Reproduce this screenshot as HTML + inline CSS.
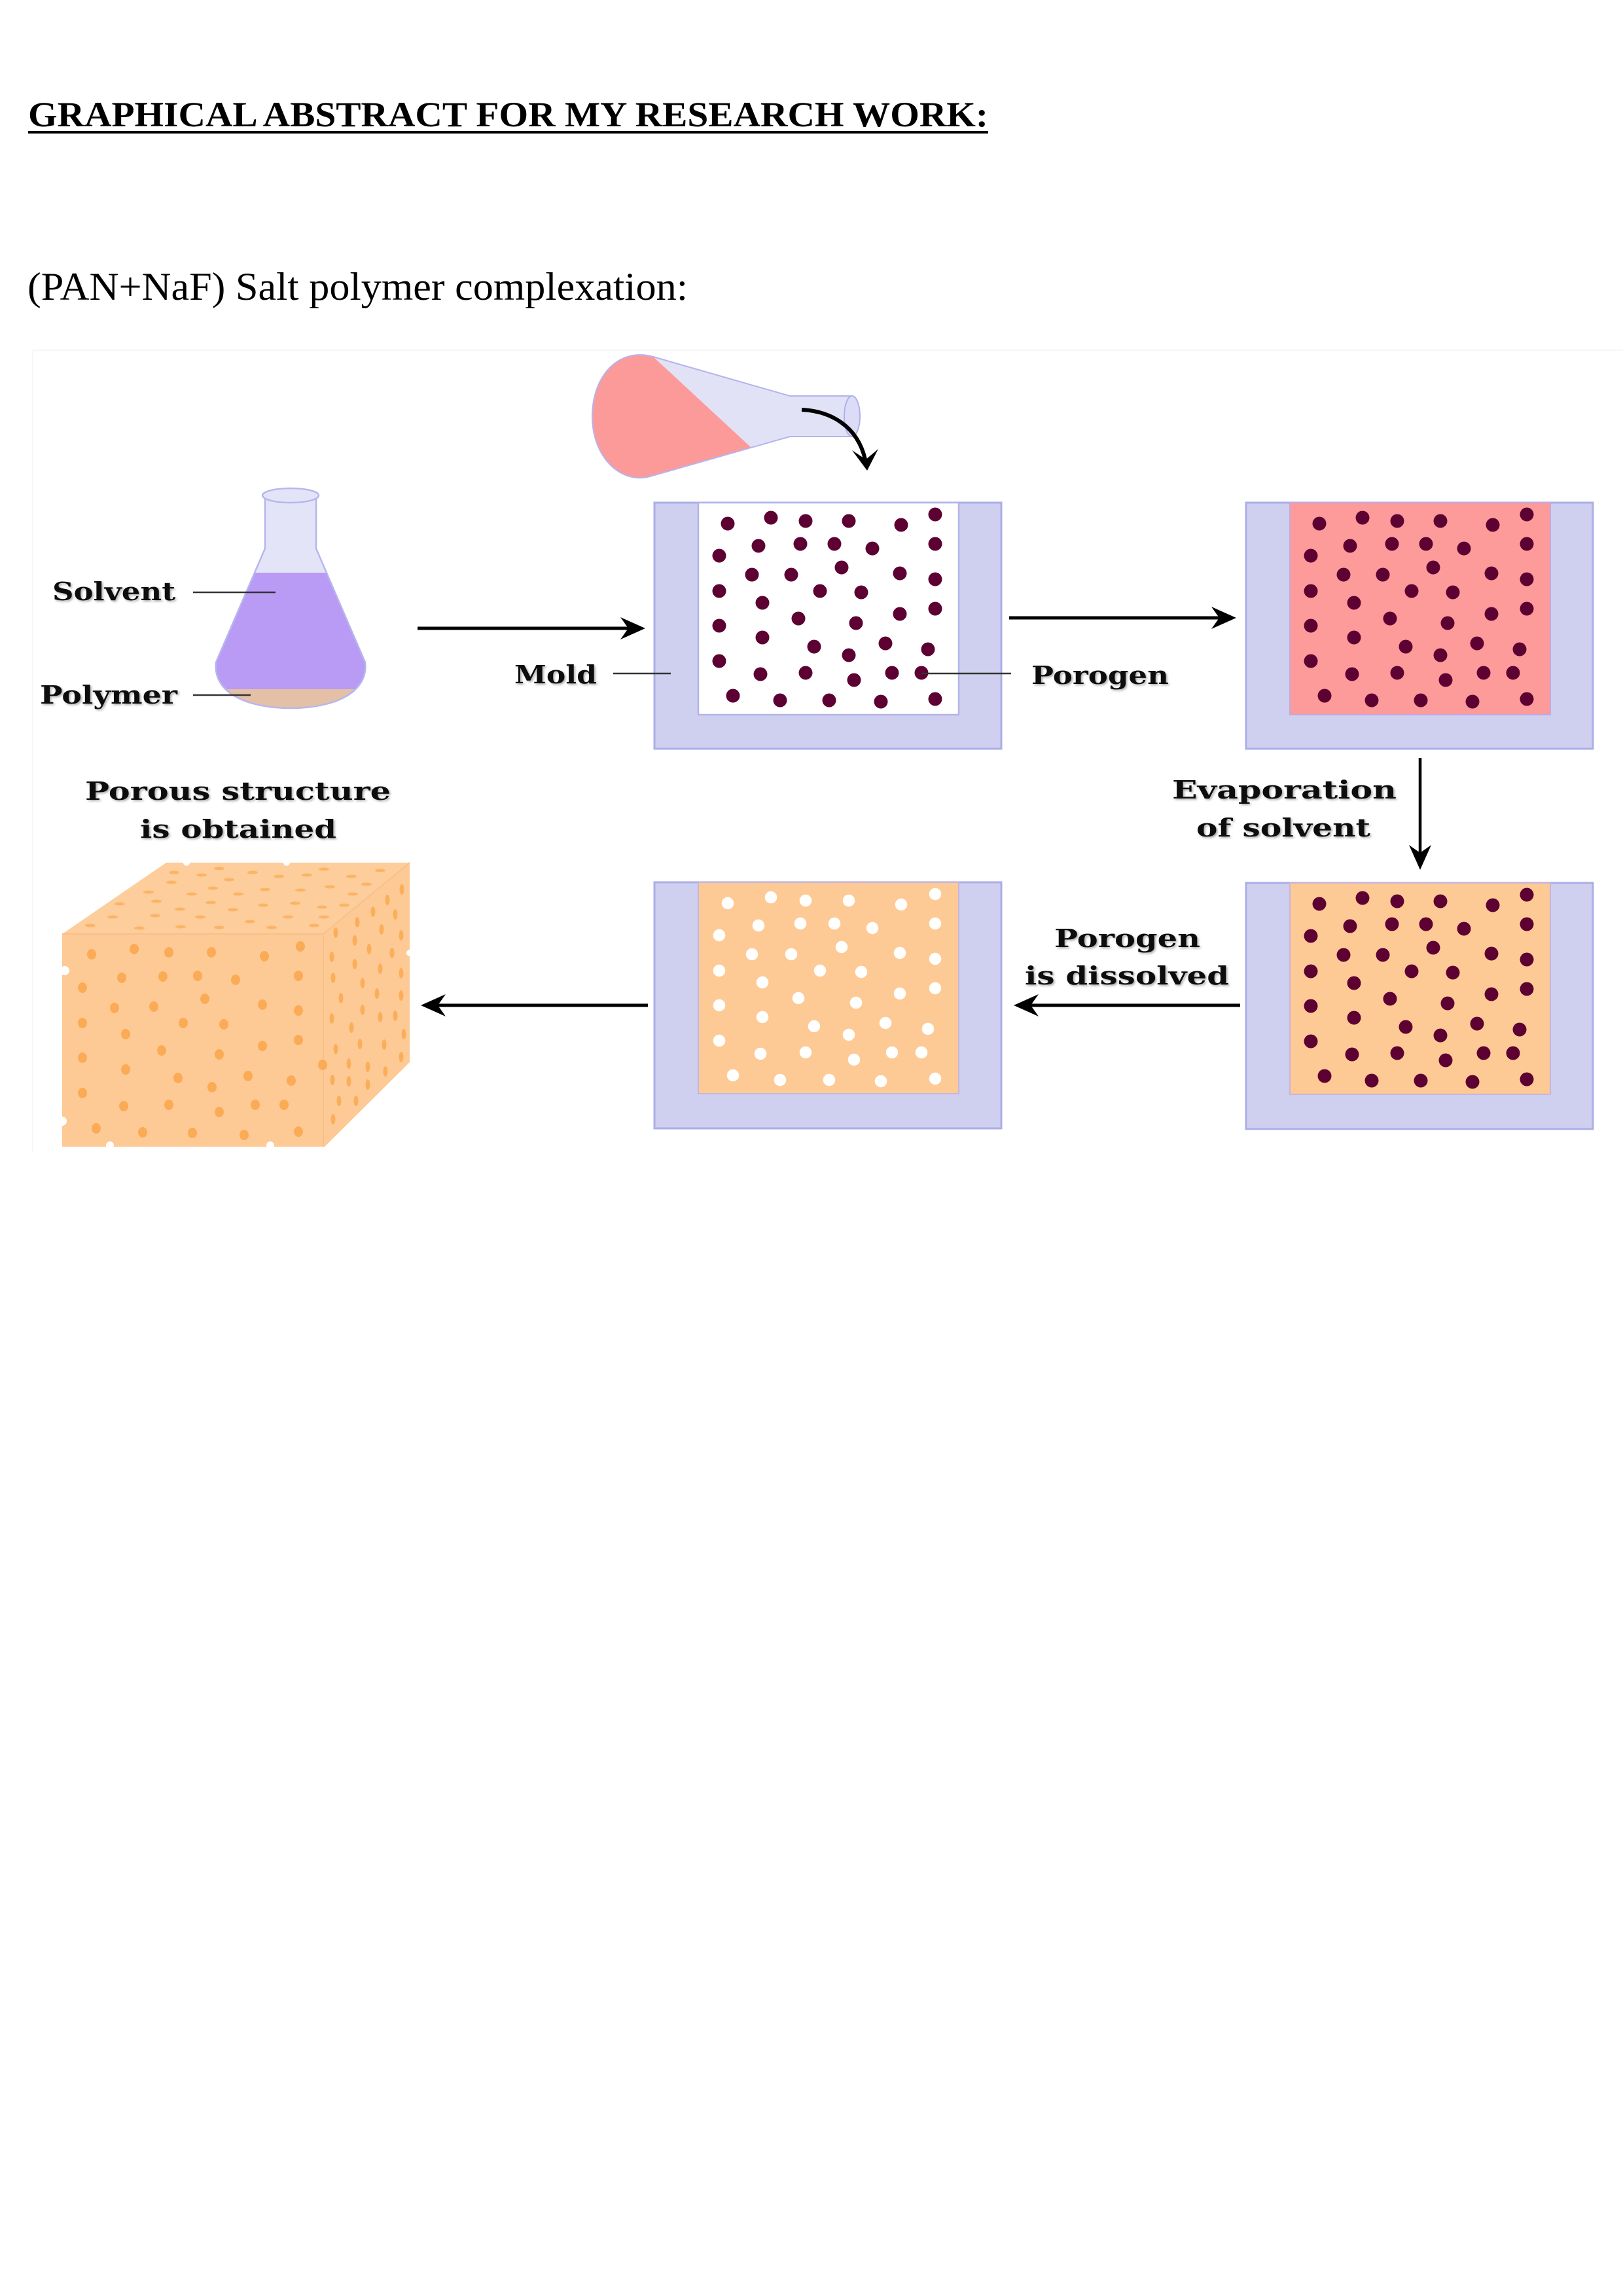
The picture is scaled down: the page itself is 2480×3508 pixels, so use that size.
<!DOCTYPE html>
<html>
<head>
<meta charset="utf-8">
<style>
  html, body { margin: 0; padding: 0; background: #ffffff; }
  svg { display: block; }
  .lbl { font-family: "DejaVu Serif", "Liberation Serif", serif; font-weight: bold; font-size: 38px; fill: #111; }
</style>
</head>
<body>
<svg width="2480" height="3508" viewBox="0 0 2480 3508" xmlns="http://www.w3.org/2000/svg">
  <defs>
    <filter id="sh" x="-5%" y="-30%" width="115%" height="170%">
      <feDropShadow dx="2" dy="2" stdDeviation="1.6" flood-color="#777" flood-opacity="0.6"/>
    </filter>
    <clipPath id="flaskClip">
      <path d="M405,757 L405,838 L330,1012 C325,1060 380,1082 444,1082 C508,1082 563,1060 558,1012 L483,838 L483,757 Z"/>
    </clipPath>
    <g id="dots">
      <circle cx="112" cy="32" r="10.5"/>
      <circle cx="178" cy="23" r="10.5"/>
      <circle cx="231" cy="28" r="10.5"/>
      <circle cx="297" cy="28" r="10.5"/>
      <circle cx="377" cy="34" r="10.5"/>
      <circle cx="429" cy="18" r="10.5"/>
      <circle cx="159" cy="66" r="10.5"/>
      <circle cx="223" cy="63" r="10.5"/>
      <circle cx="275" cy="63" r="10.5"/>
      <circle cx="333" cy="70" r="10.5"/>
      <circle cx="429" cy="63" r="10.5"/>
      <circle cx="99" cy="81" r="10.5"/>
      <circle cx="149" cy="110" r="10.5"/>
      <circle cx="209" cy="110" r="10.5"/>
      <circle cx="286" cy="99" r="10.5"/>
      <circle cx="375" cy="108" r="10.5"/>
      <circle cx="429" cy="117" r="10.5"/>
      <circle cx="99" cy="135" r="10.5"/>
      <circle cx="253" cy="135" r="10.5"/>
      <circle cx="316" cy="137" r="10.5"/>
      <circle cx="165" cy="153" r="10.5"/>
      <circle cx="220" cy="177" r="10.5"/>
      <circle cx="308" cy="184" r="10.5"/>
      <circle cx="375" cy="170" r="10.5"/>
      <circle cx="429" cy="162" r="10.5"/>
      <circle cx="99" cy="188" r="10.5"/>
      <circle cx="165" cy="206" r="10.5"/>
      <circle cx="244" cy="220" r="10.5"/>
      <circle cx="297" cy="233" r="10.5"/>
      <circle cx="353" cy="215" r="10.5"/>
      <circle cx="418" cy="224" r="10.5"/>
      <circle cx="99" cy="242" r="10.5"/>
      <circle cx="162" cy="262" r="10.5"/>
      <circle cx="231" cy="260" r="10.5"/>
      <circle cx="305" cy="271" r="10.5"/>
      <circle cx="363" cy="260" r="10.5"/>
      <circle cx="408" cy="260" r="10.5"/>
      <circle cx="120" cy="295" r="10.5"/>
      <circle cx="192" cy="302" r="10.5"/>
      <circle cx="267" cy="302" r="10.5"/>
      <circle cx="346" cy="304" r="10.5"/>
      <circle cx="429" cy="300" r="10.5"/>
    </g>
    <g id="moldOuter">
      <rect x="0" y="0" width="530" height="376" fill="#cfcff0" stroke="#adade8" stroke-width="3"/>
    </g>
  </defs>

  <!-- Header texts -->
  <text x="43" y="193" font-family="Liberation Serif, serif" font-weight="bold" font-size="54" fill="#000" textLength="1467" lengthAdjust="spacingAndGlyphs">GRAPHICAL ABSTRACT FOR MY RESEARCH WORK:</text>
  <rect x="43" y="200" width="1467" height="4" fill="#000"/>
  <text x="42" y="458" font-family="Liberation Serif, serif" font-size="60" fill="#000" textLength="1009" lengthAdjust="spacingAndGlyphs">(PAN+NaF) Salt polymer complexation:</text>

  <!-- faint diagram border -->
  <line x1="50" y1="535" x2="2480" y2="535" stroke="#f7f7f7" stroke-width="2"/>
  <line x1="50" y1="535" x2="50" y2="1760" stroke="#f7f7f7" stroke-width="2"/>

  <!-- Upright flask -->
  <path d="M405,757 L405,838 L330,1012 C325,1060 380,1082 444,1082 C508,1082 563,1060 558,1012 L483,838 L483,757 Z" fill="#e4e4f8"/>
  <g clip-path="url(#flaskClip)">
    <rect x="300" y="875" width="300" height="250" fill="#b99af5"/>
    <rect x="300" y="1053" width="300" height="60" fill="#e4c0a6"/>
  </g>
  <path d="M405,757 L405,838 L330,1012 C325,1060 380,1082 444,1082 C508,1082 563,1060 558,1012 L483,838 L483,757 Z" fill="none" stroke="#b6b6ee" stroke-width="2.5"/>
  <ellipse cx="444" cy="757" rx="43" ry="11" fill="#e4e4f8" stroke="#b6b6ee" stroke-width="2.5"/>

  <!-- flask labels -->
  <text class="lbl" x="80" y="917" textLength="188" lengthAdjust="spacingAndGlyphs" filter="url(#sh)">Solvent</text>
  <line x1="295" y1="905" x2="421" y2="905" stroke="#333" stroke-width="2.5"/>
  <text class="lbl" x="61" y="1075" textLength="210" lengthAdjust="spacingAndGlyphs" filter="url(#sh)">Polymer</text>
  <line x1="295" y1="1062" x2="383" y2="1062" stroke="#333" stroke-width="2.5"/>

  <!-- Pouring flask -->
  <path d="M998,545 L1207,605 L1302,605 L1302,667 L1207,667 L993,728 C950,740 905,700 905,636 C905,575 945,530 998,545 Z" fill="#e2e2f7"/>
  <path d="M998,545 L1148,684 L993,728 C950,740 905,700 905,636 C905,575 945,530 998,545 Z" fill="#fc9a9a"/>
  <path d="M998,545 L1207,605 L1302,605 L1302,667 L1207,667 L993,728 C950,740 905,700 905,636 C905,575 945,530 998,545 Z" fill="none" stroke="#b4b4ee" stroke-width="2"/>
  <ellipse cx="1302" cy="636" rx="12" ry="31" fill="#dcdcf6" stroke="#b0b0ec" stroke-width="2"/>
  <!-- curved pour arrow -->
  <path d="M1225,626 C1268,628 1310,650 1322,702" fill="none" stroke="#000" stroke-width="6"/>
  <path d="M1325,719 L1302,688 L1323,702 L1342,686 Z" fill="#000"/>

  <!-- Arrow 1 -->
  <line x1="638" y1="960" x2="962" y2="960" stroke="#000" stroke-width="5"/>
  <path d="M986,960 L948,943 L960,960 L948,977 Z" fill="#000"/>

  <!-- Mold 1 -->
  <use href="#moldOuter" x="1000" y="768"/>
  <rect x="1067" y="768" width="398" height="324" fill="#ffffff" stroke="#b4b4ea" stroke-width="2.5"/>
  <use href="#dots" x="1000" y="768" fill="#5d0032"/>
  <text class="lbl" x="786" y="1044" textLength="126" lengthAdjust="spacingAndGlyphs" filter="url(#sh)">Mold</text>
  <line x1="937" y1="1029" x2="1025" y2="1029" stroke="#333" stroke-width="2.5"/>
  <line x1="1408" y1="1029" x2="1545" y2="1029" stroke="#333" stroke-width="2.5"/>
  <text class="lbl" x="1576" y="1045" textLength="210" lengthAdjust="spacingAndGlyphs" filter="url(#sh)">Porogen</text>

  <!-- Arrow 2 -->
  <line x1="1542" y1="944" x2="1865" y2="944" stroke="#000" stroke-width="5"/>
  <path d="M1889,944 L1851,927 L1863,944 L1851,961 Z" fill="#000"/>

  <!-- Mold 2 -->
  <use href="#moldOuter" x="1904" y="768"/>
  <rect x="1971" y="768" width="398" height="324" fill="#fd9a9a" stroke="#c4a8e0" stroke-width="2"/>
  <use href="#dots" x="1904" y="768" fill="#5d0032"/>

  <!-- Arrow 3 (down) -->
  <line x1="2170" y1="1158" x2="2170" y2="1305" stroke="#000" stroke-width="4.5"/>
  <path d="M2170,1329 L2153,1291 L2170,1303 L2187,1291 Z" fill="#000"/>
  <text class="lbl" x="1791" y="1220" textLength="343" lengthAdjust="spacingAndGlyphs" filter="url(#sh)">Evaporation</text>
  <text class="lbl" x="1828" y="1278" textLength="266" lengthAdjust="spacingAndGlyphs" filter="url(#sh)">of solvent</text>

  <!-- Mold 3 -->
  <use href="#moldOuter" x="1904" y="1349"/>
  <rect x="1971" y="1349" width="398" height="323" fill="#fdca95" stroke="#c8b4dc" stroke-width="2"/>
  <use href="#dots" x="1904" y="1349" fill="#5d0032"/>

  <!-- Arrow 4 (left) -->
  <line x1="1895" y1="1536" x2="1572" y2="1536" stroke="#000" stroke-width="5"/>
  <path d="M1549,1536 L1587,1519 L1575,1536 L1587,1553 Z" fill="#000"/>
  <text class="lbl" x="1611" y="1447" textLength="223" lengthAdjust="spacingAndGlyphs" filter="url(#sh)">Porogen</text>
  <text class="lbl" x="1566" y="1504" textLength="312" lengthAdjust="spacingAndGlyphs" filter="url(#sh)">is dissolved</text>

  <!-- Mold 4 -->
  <use href="#moldOuter" x="1000" y="1348"/>
  <rect x="1067" y="1348" width="398" height="323" fill="#fdca95" stroke="#c8b4dc" stroke-width="2"/>
  <use href="#dots" x="1000" y="1348" fill="#ffffff" stroke="#fdca95" stroke-width="2.5"/>

  <!-- Arrow 5 (left) -->
  <line x1="990" y1="1536" x2="666" y2="1536" stroke="#000" stroke-width="5"/>
  <path d="M643,1536 L681,1519 L669,1536 L681,1553 Z" fill="#000"/>

  <!-- Porous structure label -->
  <text class="lbl" x="130" y="1222" textLength="467" lengthAdjust="spacingAndGlyphs" filter="url(#sh)">Porous structure</text>
  <text class="lbl" x="214" y="1280" textLength="300" lengthAdjust="spacingAndGlyphs" filter="url(#sh)">is obtained</text>

  <!-- Cube -->
  <polygon points="95,1427 254,1318 626,1318 494,1427" fill="#fdcd9b"/>
  <polygon points="494,1427 626,1318 626,1623 496,1752 494,1752" fill="#fdca95"/>
  <rect x="95" y="1427" width="399" height="325" fill="#fdca95"/>
  <line x1="95" y1="1427" x2="494" y2="1427" stroke="#f6c08a" stroke-width="2"/>
  <line x1="494" y1="1427" x2="494" y2="1752" stroke="#f6c08a" stroke-width="2"/>
  <line x1="494" y1="1427" x2="626" y2="1318" stroke="#f6c08a" stroke-width="2"/>

  <!-- top face dashes -->
  <g fill="#fbb466">
    <ellipse cx="266" cy="1333" rx="8" ry="2.5"/>
    <ellipse cx="308" cy="1337" rx="8" ry="2.5"/>
    <ellipse cx="335" cy="1327" rx="8" ry="2.5"/>
    <ellipse cx="386" cy="1333" rx="8" ry="2.5"/>
    <ellipse cx="426" cy="1339" rx="8" ry="2.5"/>
    <ellipse cx="495" cy="1328" rx="8" ry="2.5"/>
    <ellipse cx="537" cy="1339" rx="8" ry="2.5"/>
    <ellipse cx="581" cy="1330" rx="8" ry="2.5"/>
    <ellipse cx="262" cy="1348" rx="8" ry="2.5"/>
    <ellipse cx="350" cy="1344" rx="8" ry="2.5"/>
    <ellipse cx="469" cy="1337" rx="8" ry="2.5"/>
    <ellipse cx="504" cy="1355" rx="8" ry="2.5"/>
    <ellipse cx="560" cy="1351" rx="8" ry="2.5"/>
    <ellipse cx="227" cy="1363" rx="8" ry="2.5"/>
    <ellipse cx="293" cy="1366" rx="8" ry="2.5"/>
    <ellipse cx="325" cy="1357" rx="8" ry="2.5"/>
    <ellipse cx="364" cy="1366" rx="8" ry="2.5"/>
    <ellipse cx="405" cy="1359" rx="8" ry="2.5"/>
    <ellipse cx="459" cy="1360" rx="8" ry="2.5"/>
    <ellipse cx="539" cy="1366" rx="8" ry="2.5"/>
    <ellipse cx="183" cy="1381" rx="8" ry="2.5"/>
    <ellipse cx="239" cy="1377" rx="8" ry="2.5"/>
    <ellipse cx="275" cy="1389" rx="8" ry="2.5"/>
    <ellipse cx="322" cy="1379" rx="8" ry="2.5"/>
    <ellipse cx="356" cy="1390" rx="8" ry="2.5"/>
    <ellipse cx="402" cy="1383" rx="8" ry="2.5"/>
    <ellipse cx="451" cy="1380" rx="8" ry="2.5"/>
    <ellipse cx="492" cy="1386" rx="8" ry="2.5"/>
    <ellipse cx="526" cy="1383" rx="8" ry="2.5"/>
    <ellipse cx="172" cy="1401" rx="8" ry="2.5"/>
    <ellipse cx="237" cy="1399" rx="8" ry="2.5"/>
    <ellipse cx="306" cy="1401" rx="8" ry="2.5"/>
    <ellipse cx="382" cy="1408" rx="8" ry="2.5"/>
    <ellipse cx="440" cy="1401" rx="8" ry="2.5"/>
    <ellipse cx="495" cy="1401" rx="8" ry="2.5"/>
    <ellipse cx="138" cy="1414" rx="8" ry="2.5"/>
    <ellipse cx="213" cy="1418" rx="8" ry="2.5"/>
    <ellipse cx="276" cy="1416" rx="8" ry="2.5"/>
    <ellipse cx="335" cy="1417" rx="8" ry="2.5"/>
    <ellipse cx="415" cy="1417" rx="8" ry="2.5"/>
    <ellipse cx="480" cy="1414" rx="8" ry="2.5"/>
  </g>

  <!-- side face dots -->
  <g fill="#fbae5a">
    <ellipse cx="614" cy="1359" rx="3.5" ry="8"/>
    <ellipse cx="592" cy="1375" rx="3.5" ry="8"/>
    <ellipse cx="570" cy="1393" rx="3.5" ry="8"/>
    <ellipse cx="604" cy="1397" rx="3.5" ry="8"/>
    <ellipse cx="546" cy="1409" rx="3.5" ry="8"/>
    <ellipse cx="583" cy="1420" rx="3.5" ry="8"/>
    <ellipse cx="513" cy="1425" rx="3.5" ry="8"/>
    <ellipse cx="613" cy="1429" rx="3.5" ry="8"/>
    <ellipse cx="542" cy="1437" rx="3.5" ry="8"/>
    <ellipse cx="564" cy="1450" rx="3.5" ry="8"/>
    <ellipse cx="599" cy="1456" rx="3.5" ry="8"/>
    <ellipse cx="507" cy="1462" rx="3.5" ry="8"/>
    <ellipse cx="542" cy="1473" rx="3.5" ry="8"/>
    <ellipse cx="581" cy="1480" rx="3.5" ry="8"/>
    <ellipse cx="613" cy="1487" rx="3.5" ry="8"/>
    <ellipse cx="509" cy="1494" rx="3.5" ry="8"/>
    <ellipse cx="554" cy="1502" rx="3.5" ry="8"/>
    <ellipse cx="576" cy="1518" rx="3.5" ry="8"/>
    <ellipse cx="521" cy="1525" rx="3.5" ry="8"/>
    <ellipse cx="613" cy="1521" rx="3.5" ry="8"/>
    <ellipse cx="554" cy="1543" rx="3.5" ry="8"/>
    <ellipse cx="507" cy="1556" rx="3.5" ry="8"/>
    <ellipse cx="581" cy="1554" rx="3.5" ry="8"/>
    <ellipse cx="604" cy="1552" rx="3.5" ry="8"/>
    <ellipse cx="537" cy="1570" rx="3.5" ry="8"/>
    <ellipse cx="617" cy="1580" rx="3.5" ry="8"/>
    <ellipse cx="550" cy="1595" rx="3.5" ry="8"/>
    <ellipse cx="513" cy="1603" rx="3.5" ry="8"/>
    <ellipse cx="587" cy="1596" rx="3.5" ry="8"/>
    <ellipse cx="613" cy="1615" rx="3.5" ry="8"/>
    <ellipse cx="533" cy="1625" rx="3.5" ry="8"/>
    <ellipse cx="562" cy="1630" rx="3.5" ry="8"/>
    <ellipse cx="589" cy="1637" rx="3.5" ry="8"/>
    <ellipse cx="508" cy="1650" rx="3.5" ry="8"/>
    <ellipse cx="533" cy="1652" rx="3.5" ry="8"/>
    <ellipse cx="562" cy="1657" rx="3.5" ry="8"/>
    <ellipse cx="518" cy="1682" rx="3.5" ry="8"/>
    <ellipse cx="544" cy="1682" rx="3.5" ry="8"/>
    <ellipse cx="509" cy="1710" rx="3.5" ry="8"/>
  </g>

  <!-- front face dots -->
  <g fill="#fbab55">
    <ellipse cx="140" cy="1458" rx="7" ry="8"/>
    <ellipse cx="205" cy="1450" rx="7" ry="8"/>
    <ellipse cx="258" cy="1455" rx="7" ry="8"/>
    <ellipse cx="323" cy="1455" rx="7" ry="8"/>
    <ellipse cx="404" cy="1461" rx="7" ry="8"/>
    <ellipse cx="459" cy="1446" rx="7" ry="8"/>
    <ellipse cx="126" cy="1509" rx="7" ry="8"/>
    <ellipse cx="186" cy="1494" rx="7" ry="8"/>
    <ellipse cx="249" cy="1492" rx="7" ry="8"/>
    <ellipse cx="302" cy="1491" rx="7" ry="8"/>
    <ellipse cx="360" cy="1497" rx="7" ry="8"/>
    <ellipse cx="456" cy="1491" rx="7" ry="8"/>
    <ellipse cx="175" cy="1540" rx="7" ry="8"/>
    <ellipse cx="235" cy="1538" rx="7" ry="8"/>
    <ellipse cx="313" cy="1526" rx="7" ry="8"/>
    <ellipse cx="401" cy="1535" rx="7" ry="8"/>
    <ellipse cx="456" cy="1544" rx="7" ry="8"/>
    <ellipse cx="126" cy="1563" rx="7" ry="8"/>
    <ellipse cx="280" cy="1563" rx="7" ry="8"/>
    <ellipse cx="342" cy="1565" rx="7" ry="8"/>
    <ellipse cx="192" cy="1580" rx="7" ry="8"/>
    <ellipse cx="401" cy="1598" rx="7" ry="8"/>
    <ellipse cx="456" cy="1589" rx="7" ry="8"/>
    <ellipse cx="247" cy="1605" rx="7" ry="8"/>
    <ellipse cx="335" cy="1611" rx="7" ry="8"/>
    <ellipse cx="126" cy="1616" rx="7" ry="8"/>
    <ellipse cx="192" cy="1634" rx="7" ry="8"/>
    <ellipse cx="379" cy="1644" rx="7" ry="8"/>
    <ellipse cx="272" cy="1647" rx="7" ry="8"/>
    <ellipse cx="445" cy="1651" rx="7" ry="8"/>
    <ellipse cx="493" cy="1627" rx="7" ry="8"/>
    <ellipse cx="324" cy="1661" rx="7" ry="8"/>
    <ellipse cx="126" cy="1670" rx="7" ry="8"/>
    <ellipse cx="189" cy="1690" rx="7" ry="8"/>
    <ellipse cx="258" cy="1688" rx="7" ry="8"/>
    <ellipse cx="390" cy="1688" rx="7" ry="8"/>
    <ellipse cx="434" cy="1688" rx="7" ry="8"/>
    <ellipse cx="335" cy="1699" rx="7" ry="8"/>
    <ellipse cx="147" cy="1724" rx="7" ry="8"/>
    <ellipse cx="218" cy="1730" rx="7" ry="8"/>
    <ellipse cx="294" cy="1731" rx="7" ry="8"/>
    <ellipse cx="373" cy="1734" rx="7" ry="8"/>
    <ellipse cx="456" cy="1729" rx="7" ry="8"/>
  </g>

  <!-- white notches on cube edges -->
  <g fill="#ffffff">
    <circle cx="99" cy="1483" r="7"/>
    <circle cx="95" cy="1713" r="7"/>
    <circle cx="168" cy="1750" r="6"/>
    <circle cx="413" cy="1750" r="6"/>
    <circle cx="285" cy="1318" r="5"/>
    <circle cx="438" cy="1318" r="5"/>
    <circle cx="626" cy="1456" r="5"/>
  </g>
</svg>
</body>
</html>
